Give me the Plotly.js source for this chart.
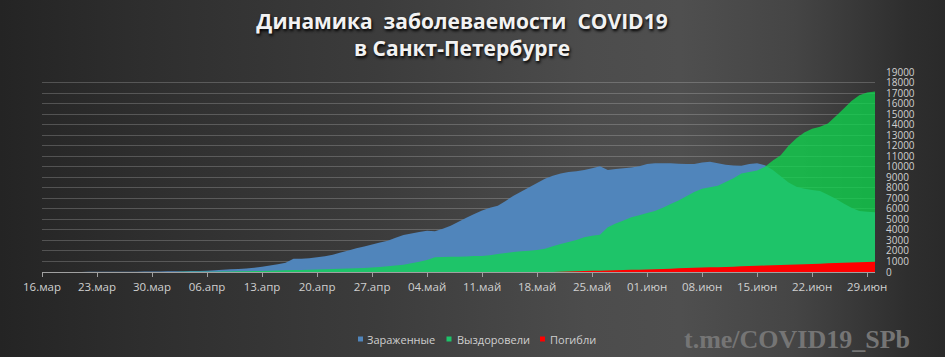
<!DOCTYPE html>
<html>
<head>
<meta charset="utf-8">
<script src="https://cdn.plot.ly/plotly-3.0.1.min.js"></script>
<style>
html, body { margin: 0; padding: 0; background: #2a2a2a; }
#chart {
  width: 945px; height: 357px;
  background: linear-gradient(90deg, #242424 0%, #2e2e2e 15%, #3c3c3c 40%, #4c4c4c 62%, #4f4f4f 72%, #454545 84%, #2e2e2e 96%, #2a2a2a 100%);
}
</style>
</head>
<body>
<div id="chart"></div>
<script>
// ---- Data (daily, starting 16.03.2020) ----
const startDate = [2020, 2, 16];

const infected = [
  3, 4, 5, 6, 8, 10, 12, 15, 18, 22,
  26, 30, 35, 40, 48, 55, 62, 70, 80, 90,
  100, 120, 160, 210, 250, 285, 340, 410, 500, 620,
  740, 880, 1250, 1265, 1300, 1400, 1500, 1650, 1850, 2050,
  2250, 2430, 2620, 2800, 2970, 3250, 3520, 3650, 3800, 3930,
  3870, 4100, 4400, 4780, 5150, 5500, 5850, 6100, 6300, 6750,
  7250, 7650, 8050, 8450, 8850, 9150, 9350, 9500, 9580, 9700,
  9850, 10050, 9700, 9780, 9850, 9920, 10050, 10250, 10320, 10330,
  10320, 10280, 10260, 10250, 10400, 10480, 10330, 10200, 10120, 10100,
  10250, 10330, 10150, 9690, 9100, 8500, 8100, 7900, 7800, 7700,
  7350, 6950, 6500, 6100, 5800, 5720, 5680
];

const recovered = [
  0, 0, 0, 0, 0, 0, 0, 0, 0, 0,
  1, 2, 2, 3, 5, 5, 8, 10, 12, 15,
  20, 25, 30, 40, 50, 60, 70, 85, 100, 120,
  140, 160, 180, 200, 220, 240, 260, 290, 320, 340,
  360, 390, 420, 470, 550, 620, 700, 820, 980, 1150,
  1390, 1420, 1450, 1460, 1480, 1510, 1530, 1600, 1700, 1800,
  1900, 1960, 2010, 2080, 2200, 2450, 2650, 2850, 3050, 3300,
  3450, 3550, 4250, 4600, 4900, 5200, 5400, 5600, 5800, 6100,
  6450, 6800, 7200, 7600, 7900, 8050, 8200, 8550, 8900, 9350,
  9500, 9650, 10000, 10600, 11100, 12000, 12700, 13250, 13600, 13800,
  14100, 14800, 15500, 16250, 16800, 17050, 17150
];

// deaths series starts on 20.05.2020 (day 65)
const deathsStartDay = 65;
const deaths = [
  10, 30, 50, 70, 90, 110, 130, 150, 170, 190,
  205, 225, 245, 270, 295, 320, 345, 370, 395, 420,
  440, 460, 485, 510, 535, 560, 585, 610, 635, 660,
  690, 720, 745, 770, 795, 820, 845, 870, 900, 925,
  950, 975
];

const seriesNames = ['Зараженные', 'Выздоровели', 'Погибли'];
const tickLabels = ['16.мар','23.мар','30.мар','06.апр','13.апр','20.апр','27.апр','04.май',
                    '11.май','18.май','25.май','01.июн','08.июн','15.июн','22.июн','29.июн'];
const titleText = 'Динамика \u00a0заболеваемости \u00a0COVID19<br>в Санкт-Петербурге';
const watermark = 't.me/COVID19_SPb';

// ---- helpers ----
function dayStr(i) {
  const d = new Date(Date.UTC(startDate[0], startDate[1], startDate[2] + i));
  return d.toISOString().slice(0, 10);
}
const dates = infected.map((_, i) => dayStr(i));
const deathDates = deaths.map((_, i) => dayStr(deathsStartDay + i));
const tickVals = tickLabels.map((_, k) => dayStr(7 * k));

const colors = ['#5085bb', 'rgba(14,218,78,0.75)', '#ff0000'];
const legendColors = ['#5085bb', '#1dc46a', '#ff0000'];

const traces = [
  { x: dates, y: infected, type: 'scatter', mode: 'none', fill: 'tozeroy',
    fillcolor: colors[0], name: seriesNames[0], showlegend: false },
  { x: dates, y: recovered, type: 'scatter', mode: 'none', fill: 'tozeroy',
    fillcolor: colors[1], name: seriesNames[1], showlegend: false },
  { x: deathDates, y: deaths, type: 'scatter', mode: 'none', fill: 'tozeroy',
    fillcolor: colors[2], name: seriesNames[2], showlegend: false }
];

// plot area: x 42..875, y 72..272
const L = 42, R = 875, T = 72, B = 272;
const px = v => (v - L) / (R - L);
const py = v => (B - v) / (B - T);

const legendSquares = [358, 446.5, 540];
const legendTexts = [364.5, 455, 548];
const legendY = 339;

const annotations = [];
const shapes = [];
seriesNames.forEach((n, i) => {
  shapes.push({ type: 'rect', xref: 'paper', yref: 'paper',
    x0: px(legendSquares[i]), x1: px(legendSquares[i] + 5),
    y0: py(legendY + 2.5), y1: py(legendY - 2.5),
    fillcolor: legendColors[i], line: { width: 0 } });
  annotations.push({ xref: 'paper', yref: 'paper', x: px(legendTexts[i]), y: py(legendY),
    xanchor: 'left', yanchor: 'middle', showarrow: false, text: n,
    font: { family: 'Open Sans', size: 11, color: '#cfcfcf' } });
});
annotations.push({ xref: 'paper', yref: 'paper', x: px(797), y: py(339),
  xanchor: 'center', yanchor: 'middle', showarrow: false, text: watermark,
  font: { family: 'Liberation Serif', size: 26, color: '#757575', weight: 'bold' } });

const layout = {
  width: 945, height: 357,
  margin: { l: L, r: 945 - R, t: T, b: 357 - B, pad: 0 },
  paper_bgcolor: 'rgba(0,0,0,0)',
  plot_bgcolor: 'rgba(0,0,0,0)',
  title: {
    text: titleText,
    x: 462 / 945, xref: 'container', xanchor: 'center',
    y: 1 - 29 / 357, yref: 'container', yanchor: 'top',
    font: { family: 'Open Sans', size: 21, color: '#f2f2f2', weight: 'bold',
            shadow: '1px 2px 3px #000' }
  },
  xaxis: {
    type: 'date',
    range: [dayStr(0), dayStr(106)],
    tickvals: tickVals, ticktext: tickLabels,
    ticks: 'outside', ticklen: 4, tickcolor: '#a0a0a0',
    showline: true, linecolor: '#a0a0a0', linewidth: 1,
    showgrid: false, zeroline: false,
    tickfont: { family: 'Open Sans', size: 11.5, color: '#d0d0d0' }
  },
  yaxis: {
    side: 'right',
    range: [0, 19000], tick0: 0, dtick: 1000,
    tickformat: 'd',
    showgrid: true, gridcolor: 'rgba(255,255,255,0.2)', gridwidth: 1,
    zeroline: false, showline: false, ticks: '',
    ticklabelstandoff: 10,
    tickfont: { family: 'Open Sans', size: 10, color: '#d0d0d0' }
  },
  shapes: shapes,
  annotations: annotations,
  showlegend: false
};

Plotly.newPlot('chart', traces, layout, { staticPlot: true, displayModeBar: false });
</script>
</body>
</html>
